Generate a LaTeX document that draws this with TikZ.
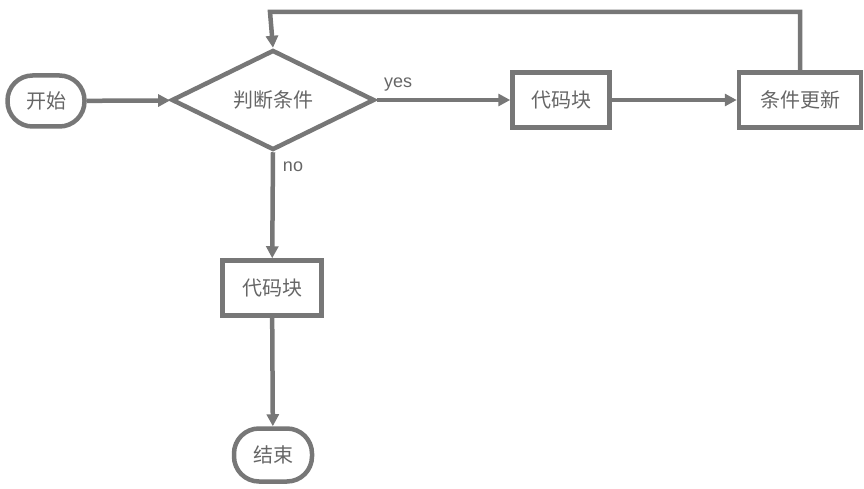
\documentclass[tikz,border=0pt]{standalone}
\usepackage{fontspec}
\setmainfont{Liberation Sans}
\newfontfamily\cjk{Noto Sans CJK SC}
\usetikzlibrary{shapes.geometric,arrows.meta}
\definecolor{lc}{HTML}{777777}
\definecolor{tc}{HTML}{666666}
\begin{document}
\begin{tikzpicture}[x=1pt,y=-1pt,
  every node/.style={text=tc,font=\cjk\fontsize{20}{24}\selectfont},
  edge/.style={draw=lc,line width=4.5pt,-{Triangle[length=12pt,width=12pt]}},
  term/.style={draw=lc,line width=4.5pt,rounded corners=25pt,minimum width=77pt,minimum height=51pt,inner sep=0pt},
  proc/.style={draw=lc,line width=4.5pt,minimum height=55pt,inner sep=0pt},
  cond/.style={draw=lc,line width=4.5pt,diamond,aspect=2.03,minimum width=203pt,minimum height=100pt,inner sep=0pt},
  lbl/.style={text=tc,font=\fontsize{18}{22}\selectfont}]
\useasboundingbox (0,0) rectangle (864,489);
\node[term] (start) at (46,101) {开始};
\node[cond] (dec) at (273,100) {判断条件};
\node[proc,minimum width=97pt] (code1) at (561,100) {代码块};
\node[proc,minimum width=122pt] (upd) at (800,100) {条件更新};
\node[proc,minimum width=99pt] (code2) at (272,288) {代码块};
\node[term,minimum width=78pt,minimum height=53pt] (end) at (273,455) {结束};
\coordinate (c1) at (800,12);
\coordinate (c2) at (270,12);
\draw[edge] (start) -- (dec);
\draw[edge] (dec.east) -- (code1);
\draw[edge] (code1) -- (upd);
\draw[edge] (upd.north) -- (c1) -- (c2) -- (dec.north);
\draw[edge] (dec.south) -- (code2);
\draw[edge] (code2) -- (end);
\node[lbl] (yes) at (398,85) {yes};
\node[lbl] (no) at (293,167) {no};
\end{tikzpicture}
\end{document}
